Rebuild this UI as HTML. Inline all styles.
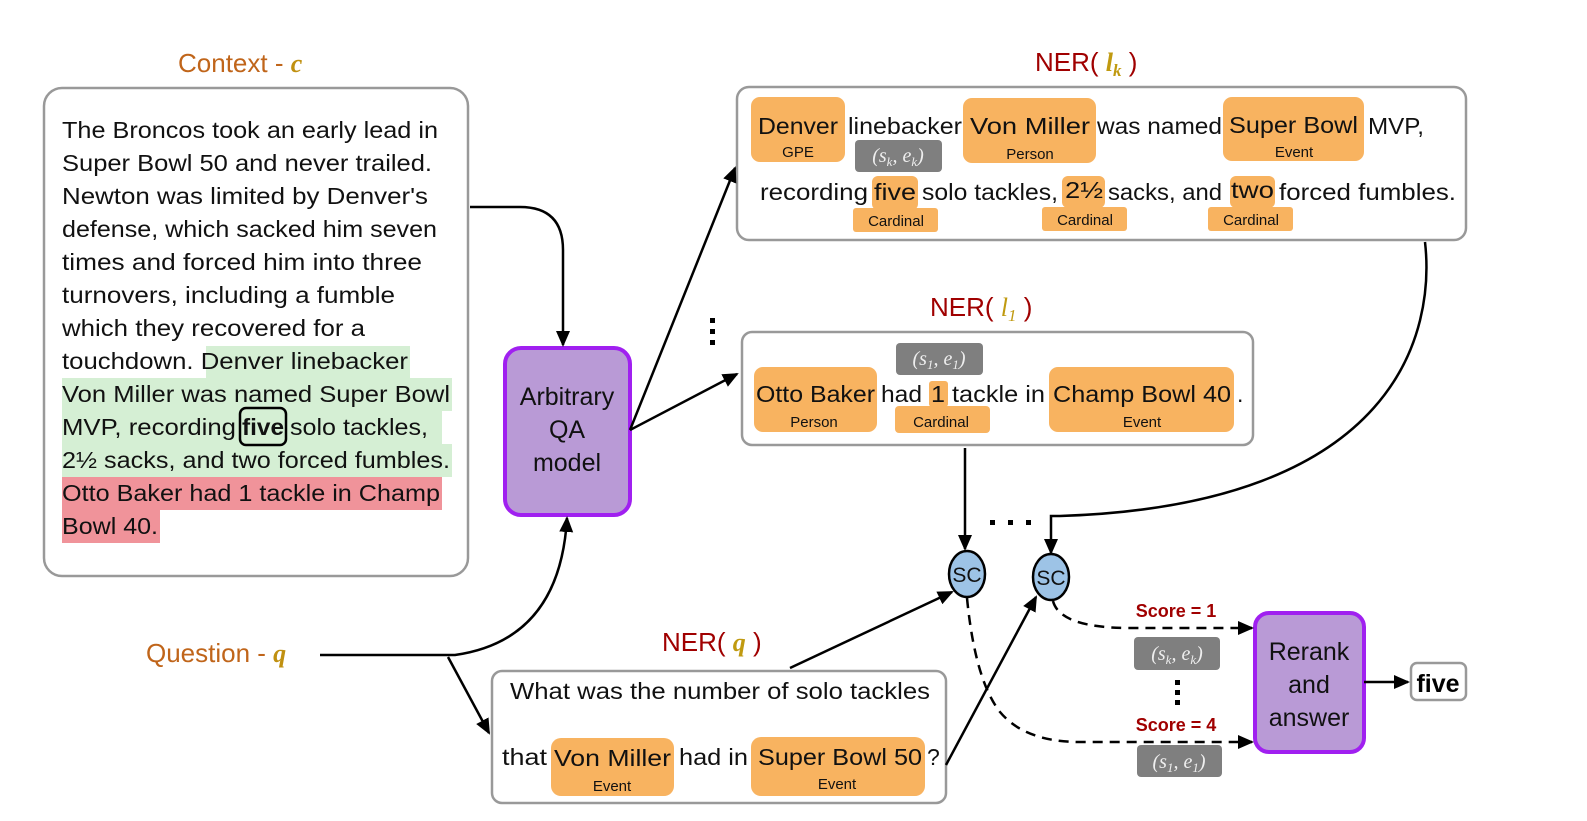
<!DOCTYPE html>
<html><head><meta charset="utf-8"><style>
html,body{margin:0;padding:0;background:#fff;}
svg{display:block;}
text{font-family:"Liberation Sans",sans-serif;}
.t{font-size:23px;fill:#111;}
.lb{font-size:15px;fill:#111;text-anchor:middle;}
.ent{font-size:23px;fill:#111;}
.math{font-family:"Liberation Serif",serif;font-style:italic;}
.gm{font-family:"Liberation Serif",serif;font-style:italic;font-size:20px;fill:#eee;text-anchor:middle;}
</style></head><body>
<svg width="1587" height="821" viewBox="0 0 1587 821" xmlns="http://www.w3.org/2000/svg">
<defs>
<marker id="b" markerWidth="16" markerHeight="16" refX="14" refY="8" orient="auto" markerUnits="userSpaceOnUse" viewBox="0 0 16 16"><path d="M0,1 L16,8 L0,15 z" fill="#000"/></marker>
</defs>

<!-- Titles -->
<text x="178" y="72" font-size="26" fill="#c0651a">Context - <tspan class="math" fill="#c09010" font-weight="bold">c</tspan></text>
<text x="1035" y="71" font-size="26" fill="#a00000">NER( <tspan class="math" fill="#c09a10" font-weight="bold">l<tspan font-size="17" dy="5">k</tspan></tspan><tspan dy="-5"> )</tspan></text>
<text x="930" y="316" font-size="26" fill="#a00000">NER( <tspan class="math" fill="#c09a10">l<tspan font-size="17" dy="5">1</tspan></tspan><tspan dy="-5"> )</tspan></text>
<text x="662" y="651" font-size="26" fill="#a00000">NER( <tspan class="math" fill="#c09a10" font-weight="bold">q</tspan>   )</text>
<text x="146" y="662" font-size="26" fill="#c0651a">Question - <tspan class="math" fill="#c09010" font-weight="bold">q</tspan></text>

<!-- Context box -->
<rect x="44" y="88" width="424" height="488" rx="18" fill="#fff" stroke="#999" stroke-width="2.5"/>
<rect x="206" y="346" width="204" height="32" fill="#d5efd4"/>
<rect x="62" y="378" width="390" height="33" fill="#d5efd4"/>
<rect x="62" y="411" width="380" height="33" fill="#d5efd4"/>
<rect x="62" y="444" width="390" height="33" fill="#d5efd4"/>
<rect x="62" y="477" width="380" height="33" fill="#f0939a"/>
<rect x="62" y="510" width="98" height="33" fill="#f0939a"/>
<rect x="240" y="408" width="46" height="37" rx="6" fill="none" stroke="#000" stroke-width="2.5"/>
<g class="t">
<text x="62" y="138" textLength="376" lengthAdjust="spacingAndGlyphs">The Broncos took an early lead in</text>
<text x="62" y="171" textLength="370" lengthAdjust="spacingAndGlyphs">Super Bowl 50 and never trailed.</text>
<text x="62" y="204" textLength="366" lengthAdjust="spacingAndGlyphs">Newton was limited by Denver's</text>
<text x="62" y="237" textLength="375" lengthAdjust="spacingAndGlyphs">defense, which sacked him seven</text>
<text x="62" y="270" textLength="360" lengthAdjust="spacingAndGlyphs">times and forced him into three</text>
<text x="62" y="303" textLength="333" lengthAdjust="spacingAndGlyphs">turnovers, including a fumble</text>
<text x="62" y="336" textLength="303" lengthAdjust="spacingAndGlyphs">which they recovered for a</text>
<text x="62" y="369" textLength="346" lengthAdjust="spacingAndGlyphs">touchdown. Denver linebacker</text>
<text x="62" y="402" textLength="388" lengthAdjust="spacingAndGlyphs">Von Miller was named Super Bowl</text>
<text x="62" y="435" textLength="174" lengthAdjust="spacingAndGlyphs">MVP, recording</text>
<text x="242" y="435" textLength="42" lengthAdjust="spacingAndGlyphs" font-weight="bold">five</text>
<text x="290" y="435" textLength="138" lengthAdjust="spacingAndGlyphs">solo tackles,</text>
<text x="62" y="468" textLength="388" lengthAdjust="spacingAndGlyphs">2½ sacks, and two forced fumbles.</text>
<text x="62" y="501" textLength="378" lengthAdjust="spacingAndGlyphs">Otto Baker had 1 tackle in Champ</text>
<text x="62" y="534" textLength="96" lengthAdjust="spacingAndGlyphs">Bowl 40.</text>
</g>

<!-- QA model -->
<rect x="505" y="348" width="125" height="167" rx="16" fill="#b99ad6" stroke="#a020f0" stroke-width="4"/>
<g font-size="25" fill="#111" text-anchor="middle">
<text x="567" y="405">Arbitrary</text><text x="567" y="438">QA</text><text x="567" y="471">model</text>
</g>

<!-- Top NER box -->
<rect x="737" y="87" width="729" height="153" rx="12" fill="#fff" stroke="#999" stroke-width="2.5"/>
<g fill="#f8b360">
<rect x="751" y="97" width="94" height="65" rx="9"/>
<rect x="963" y="98" width="133" height="65" rx="9"/>
<rect x="1223" y="97" width="141" height="64" rx="9"/>
<rect x="872" y="176" width="46" height="34" rx="6"/>
<rect x="853" y="208" width="85" height="24" rx="3"/>
<rect x="1062" y="176" width="43" height="32" rx="6"/>
<rect x="1042" y="207" width="85" height="24" rx="3"/>
<rect x="1230" y="176" width="45" height="32" rx="6"/>
<rect x="1208" y="207" width="85" height="24" rx="3"/>
</g>
<rect x="855" y="140" width="87" height="32" rx="4" fill="#7f7f7f"/>
<text class="gm" x="898" y="162">(s<tspan font-size="13" dy="4">k</tspan><tspan dy="-4">, e</tspan><tspan font-size="13" dy="4">k</tspan><tspan dy="-4">)</tspan></text>
<g class="ent">
<text x="758" y="134" textLength="80" lengthAdjust="spacingAndGlyphs">Denver</text>
<text x="848" y="134" textLength="114" lengthAdjust="spacingAndGlyphs">linebacker</text>
<text x="970" y="134" textLength="120" lengthAdjust="spacingAndGlyphs">Von Miller</text>
<text x="1097" y="134" textLength="125" lengthAdjust="spacingAndGlyphs">was named</text>
<text x="1229" y="133" textLength="129" lengthAdjust="spacingAndGlyphs">Super Bowl</text>
<text x="1368" y="134" textLength="56" lengthAdjust="spacingAndGlyphs">MVP,</text>
<text x="760" y="200" textLength="108" lengthAdjust="spacingAndGlyphs">recording</text>
<text x="874" y="200" textLength="42" lengthAdjust="spacingAndGlyphs">five</text>
<text x="922" y="200" textLength="136" lengthAdjust="spacingAndGlyphs">solo tackles,</text>
<text x="1065" y="198" textLength="38" lengthAdjust="spacingAndGlyphs">2½</text>
<text x="1108" y="200" textLength="114" lengthAdjust="spacingAndGlyphs">sacks, and</text>
<text x="1231" y="198" textLength="43" lengthAdjust="spacingAndGlyphs">two</text>
<text x="1279" y="200" textLength="177" lengthAdjust="spacingAndGlyphs">forced fumbles.</text>
</g>
<g class="lb">
<text x="798" y="157">GPE</text><text x="1030" y="159">Person</text><text x="1294" y="157">Event</text>
<text x="896" y="226">Cardinal</text><text x="1085" y="225">Cardinal</text><text x="1251" y="225">Cardinal</text>
</g>

<!-- Middle NER box -->
<rect x="742" y="332" width="511" height="113" rx="10" fill="#fff" stroke="#999" stroke-width="2.5"/>
<g fill="#f8b360">
<rect x="754" y="367" width="123" height="65" rx="9"/>
<rect x="929" y="381" width="19" height="26" rx="3"/>
<rect x="895" y="406" width="95" height="27" rx="4"/>
<rect x="1049" y="367" width="185" height="65" rx="9"/>
</g>
<rect x="896" y="343" width="87" height="32" rx="4" fill="#7f7f7f"/>
<text class="gm" x="939" y="365">(s<tspan font-size="13" dy="4">1</tspan><tspan dy="-4">, e</tspan><tspan font-size="13" dy="4">1</tspan><tspan dy="-4">)</tspan></text>
<g class="ent">
<text x="756" y="402" textLength="119" lengthAdjust="spacingAndGlyphs">Otto Baker</text>
<text x="881" y="402" textLength="41" lengthAdjust="spacingAndGlyphs">had</text>
<text x="931" y="402" textLength="14" lengthAdjust="spacingAndGlyphs">1</text>
<text x="952" y="402" textLength="93" lengthAdjust="spacingAndGlyphs">tackle in</text>
<text x="1053" y="402" textLength="178" lengthAdjust="spacingAndGlyphs">Champ Bowl 40</text>
<text x="1237" y="402">.</text>
</g>
<g class="lb"><text x="814" y="427">Person</text><text x="941" y="427">Cardinal</text><text x="1142" y="427">Event</text></g>
<g fill="#000"><rect x="710" y="318" width="5" height="5"/><rect x="710" y="329" width="5" height="5"/><rect x="710" y="340" width="5" height="5"/></g>

<!-- Question box -->
<rect x="492" y="671" width="454" height="132" rx="10" fill="#fff" stroke="#999" stroke-width="2.5"/>
<g fill="#f8b360">
<rect x="551" y="738" width="123" height="58" rx="10"/>
<rect x="751" y="737" width="174" height="59" rx="10"/>
</g>
<g class="ent">
<text x="510" y="699" textLength="420" lengthAdjust="spacingAndGlyphs">What was the number of solo tackles</text>
<text x="502" y="765" textLength="45" lengthAdjust="spacingAndGlyphs">that</text>
<text x="554" y="766" textLength="117" lengthAdjust="spacingAndGlyphs">Von Miller</text>
<text x="679" y="765" textLength="69" lengthAdjust="spacingAndGlyphs">had in</text>
<text x="758" y="765" textLength="164" lengthAdjust="spacingAndGlyphs">Super Bowl 50</text>
<text x="927" y="765">?</text>
</g>
<g class="lb"><text x="612" y="791">Event</text><text x="837" y="789">Event</text></g>

<!-- SC nodes -->
<ellipse cx="967" cy="574" rx="18" ry="23" fill="#9dc3e6" stroke="#000" stroke-width="2.5"/>
<ellipse cx="1051" cy="577" rx="18" ry="23" fill="#9dc3e6" stroke="#000" stroke-width="2.5"/>
<text x="967" y="582" font-size="21" text-anchor="middle" fill="#111">SC</text>
<text x="1051" y="585" font-size="21" text-anchor="middle" fill="#111">SC</text>
<g fill="#000"><rect x="990" y="520" width="5" height="5"/><rect x="1008" y="520" width="5" height="5"/><rect x="1026" y="520" width="5" height="5"/></g>

<!-- Rerank -->
<rect x="1255" y="613" width="109" height="139" rx="14" fill="#b99ad6" stroke="#a020f0" stroke-width="4"/>
<g font-size="25" fill="#111" text-anchor="middle">
<text x="1309" y="660">Rerank</text><text x="1309" y="693">and</text><text x="1309" y="726">answer</text>
</g>
<rect x="1411" y="663" width="55" height="37" rx="6" fill="#fff" stroke="#999" stroke-width="2.5"/>
<text x="1438" y="692" font-size="25" font-weight="bold" text-anchor="middle" fill="#000">five</text>

<text x="1176" y="617" font-size="18" font-weight="bold" fill="#a00000" text-anchor="middle">Score = 1</text>
<text x="1176" y="731" font-size="18" font-weight="bold" fill="#a00000" text-anchor="middle">Score = 4</text>
<rect x="1134" y="637" width="86" height="33" rx="4" fill="#7f7f7f"/>
<text class="gm" x="1177" y="660">(s<tspan font-size="13" dy="4">k</tspan><tspan dy="-4">, e</tspan><tspan font-size="13" dy="4">k</tspan><tspan dy="-4">)</tspan></text>
<rect x="1137" y="745" width="85" height="32" rx="4" fill="#7f7f7f"/>
<text class="gm" x="1179" y="768">(s<tspan font-size="13" dy="4">1</tspan><tspan dy="-4">, e</tspan><tspan font-size="13" dy="4">1</tspan><tspan dy="-4">)</tspan></text>
<g fill="#000"><rect x="1175" y="680" width="5" height="5"/><rect x="1175" y="690" width="5" height="5"/><rect x="1175" y="700" width="5" height="5"/></g>

<!-- Connectors -->
<g fill="none" stroke="#000" stroke-width="2.5">
<path d="M470,207 L520,207 Q563,207 563,250 L563,345" marker-end="url(#b)"/>
<path d="M320,655 L455,655 Q560,640 567,518" marker-end="url(#b)"/>
<path d="M448,657 L489,733" marker-end="url(#b)"/>
<path d="M630,430 L735,168" marker-end="url(#b)"/>
<path d="M630,430 L737,374" marker-end="url(#b)"/>
<path d="M965,448 L965,549" marker-end="url(#b)"/>
<path d="M1425,242 C1435,330 1400,505 1060,516 L1051,516 L1051,553" marker-end="url(#b)"/>
<path d="M790,668 L952,592" marker-end="url(#b)"/>
<path d="M946,765 L1036,597" marker-end="url(#b)"/>
<path d="M1364,682 L1408,682" marker-end="url(#b)"/>
<path d="M1053,601 Q1060,628 1130,628 L1252,628" stroke-dasharray="10,7" marker-end="url(#b)"/>
<path d="M967,598 Q975,680 1000,712 Q1025,742 1080,742 L1252,742" stroke-dasharray="10,7" marker-end="url(#b)"/>
</g>
</svg>
</body></html>
